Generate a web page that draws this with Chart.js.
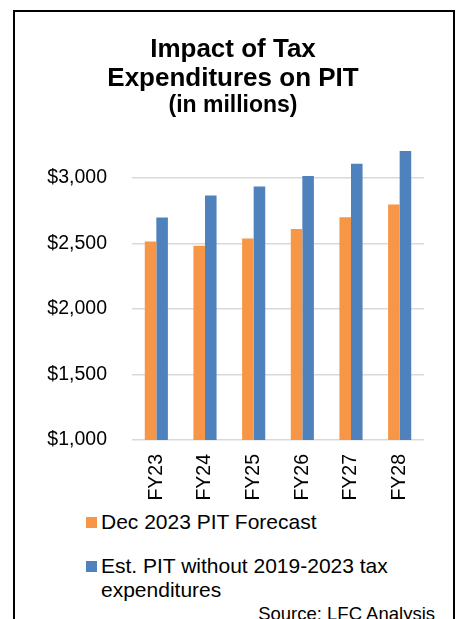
<!DOCTYPE html>
<html>
<head>
<meta charset="utf-8">
<script src="https://cdn.jsdelivr.net/npm/chart.js@4.4.1/dist/chart.umd.min.js"></script>
<style>
  html, body { margin: 0; padding: 0; background: #fff; }
  body { width: 459px; height: 619px; position: relative; overflow: hidden; font-family: Arial, "Liberation Sans", sans-serif; }
  #wrap { position: absolute; left: 0; top: 0; width: 459px; height: 510px; }
  #frame { position: absolute; left: 13px; top: 10px; width: 442px; height: 700px; box-sizing: border-box; border: 2px solid #000; pointer-events: none; }
  .item { position: absolute; left: 86px; font-size: 21px; line-height: 23.5px; color: #000; }
  .item .sw { position: absolute; left: 0; width: 11px; height: 11px; }
  .item .txt { position: absolute; left: 15px; width: 310px; }
  #source { position: absolute; right: 24px; top: 604px; font-size: 18.5px; line-height: 20px; color: #000; white-space: nowrap; }
</style>
</head>
<body>
<div id="wrap"><canvas id="chart"></canvas></div>
<div id="legend"></div>
<div id="source">Source: LFC Analysis</div>
<div id="frame"></div>
<script>
// --- Impact of Tax Expenditures on PIT ---

const years = ['FY23', 'FY24', 'FY25', 'FY26', 'FY27', 'FY28'];
const forecast = [2515, 2482, 2538, 2609, 2700, 2797];
const withoutTaxExp = [2698, 2865, 2934, 3015, 3107, 3205];
const yTicks = [1000, 1500, 2000, 2500, 3000];

const seriesNames = ['Dec 2023 PIT Forecast', 'Est. PIT without 2019-2023 tax expenditures'];
const seriesColors = ['#F79646', '#4F81BD'];

const font = 'Arial, "Liberation Sans", sans-serif';

const ctx = document.getElementById('chart');
const chart = new Chart(ctx, {
    type: 'bar',
    data: {
        labels: years,
        datasets: [
            { label: seriesNames[0], data: forecast, backgroundColor: seriesColors[0] },
            { label: seriesNames[1], data: withoutTaxExp, backgroundColor: seriesColors[1] }
        ]
    },
    options: {
        responsive: true,
        maintainAspectRatio: false,
        animation: false,
        layout: { padding: { left: 42, right: 35, top: 0, bottom: 5 } },
        datasets: { bar: { categoryPercentage: 0.475, barPercentage: 1 } },
        plugins: {
            legend: { display: false },
            tooltip: { enabled: false },
            title: {
                display: true,
                text: ['Impact of Tax', 'Expenditures on PIT'],
                color: '#000',
                font: { family: font, size: 26, weight: 'bold', lineHeight: 1.1 },
                padding: { top: 36, bottom: 0 }
            },
            subtitle: {
                display: true,
                text: '(in millions)',
                color: '#000',
                font: { family: font, size: 23, weight: 'bold', lineHeight: 1.1 },
                padding: { top: 0, bottom: 26.6 }
            }
        },
        scales: {
            x: {
                grid: { display: false, drawTicks: false },
                border: { display: false },
                ticks: {
                    color: '#000',
                    font: { family: font, size: 19.5 },
                    maxRotation: 90,
                    minRotation: 90,
                    padding: 14
                },
                afterFit: s => { s.height = 65; }
            },
            y: {
                min: 1000,
                max: 3250,
                grid: { color: '#d9d9d9', lineWidth: 1.5, drawTicks: false },
                border: { display: false },
                ticks: {
                    autoSkip: false,
                    color: '#000',
                    font: { family: font, size: 19.5 },
                    padding: 25,
                    callback: v => '$' + v.toLocaleString('en-US')
                },
                // gridlines only every 500, the axis top (3,250) has no label
                afterBuildTicks: s => { s.ticks = yTicks.map(v => ({ value: v })); },
                afterFit: s => { s.width = 90; }
            }
        }
    }
});

// legend drawn as html so the long label wraps like the original
const legendTops = [510, 554];
const legendEl = document.getElementById('legend');
seriesNames.forEach((name, i) => {
    const item = document.createElement('div');
    item.className = 'item';
    item.style.top = legendTops[i] + 'px';
    item.innerHTML = '<div class="sw" style="top:7px;background:' + seriesColors[i] + '"></div><div class="txt">' + name + '</div>';
    legendEl.appendChild(item);
});
</script>
</body>
</html>
